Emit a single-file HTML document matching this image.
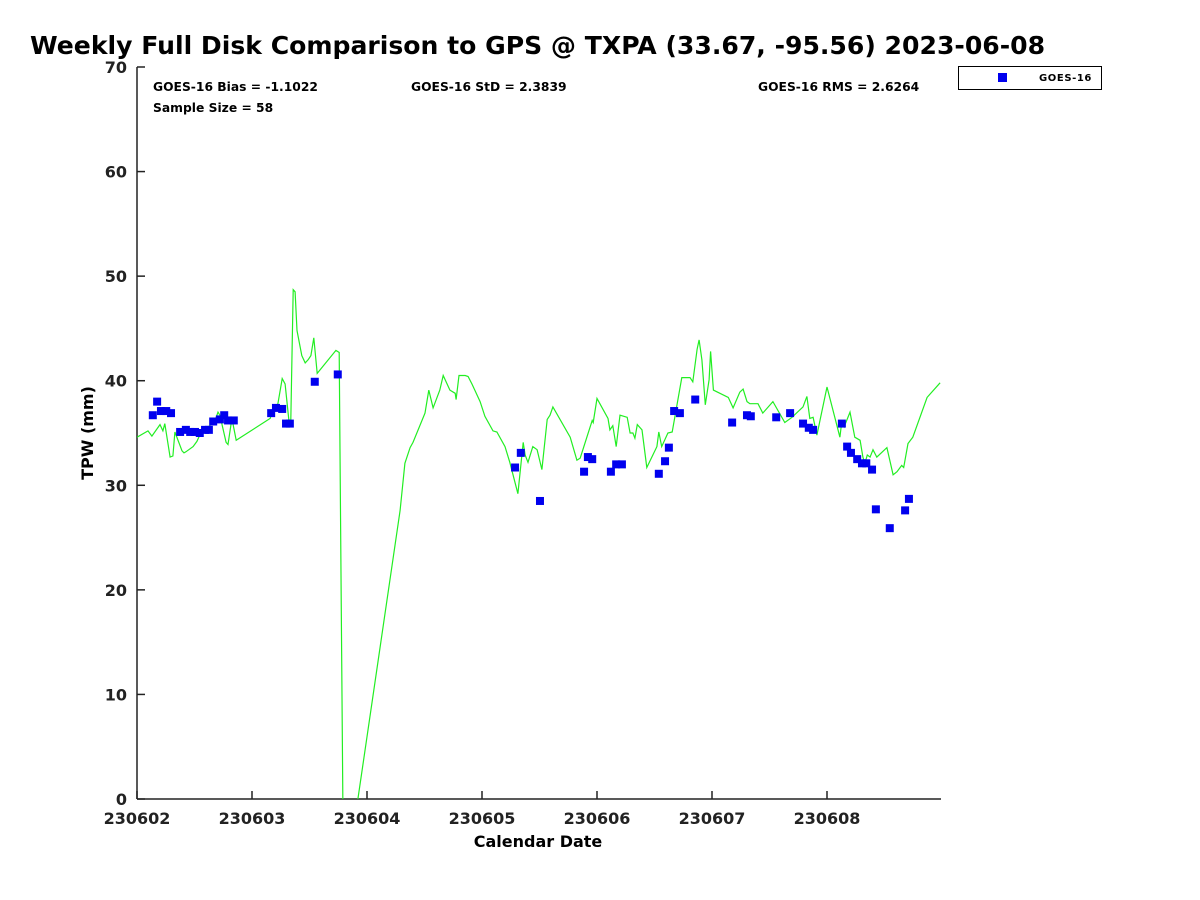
<!DOCTYPE html>
<html><head><meta charset="utf-8"><style>
body{margin:0;background:#fff;}
svg{display:block;font-family:"DejaVu Sans","Liberation Sans",sans-serif;}
</style></head><body>
<svg id="chart" width="1200" height="900">
<text x="30" y="54" font-size="25.1" font-weight="bold">Weekly Full Disk Comparison to GPS @ TXPA (33.67, -95.56) 2023-06-08</text>
<defs><clipPath id="pc"><rect x="137" y="67" width="804" height="732"/></clipPath></defs>
<g id="axes"></g>
<g id="series" clip-path="url(#pc)"></g>
<text x="153" y="91" font-size="12.3" font-weight="bold">GOES-16 Bias = -1.1022</text>
<text x="411" y="91" font-size="12.3" font-weight="bold">GOES-16 StD = 2.3839</text>
<text x="758" y="91" font-size="12.3" font-weight="bold">GOES-16 RMS = 2.6264</text>
<text x="153" y="112" font-size="12.3" font-weight="bold">Sample Size = 58</text>
<g>
<rect x="958.5" y="66.5" width="143" height="23" fill="#fff" stroke="#000"/>
<rect x="998" y="73" width="9" height="9" fill="#0000ee"/>
<text x="1092" y="81" font-size="10" font-weight="bold" letter-spacing="0.6" text-anchor="end">GOES-16</text>
</g>
<text x="538" y="847" font-size="16" font-weight="bold" text-anchor="middle">Calendar Date</text>
<text transform="translate(93,433) rotate(-90)" font-size="16" font-weight="bold" text-anchor="middle">TPW (mm)</text>
</svg>
<script>
const xTickLabels=["230602","230603","230604","230605","230606","230607","230608"];
const yTickValues=[0,10,20,30,40,50,60,70];
const gpsHours=[0,2.3,3.1,4.8,5.4,5.8,6.9,7.5,7.9,9.4,9.8,10.2,11.7,12.5,13.1,14.2,15.2,16.3,16.9,17.3,18.6,19.0,19.8,20.7,27.8,28.2,29.4,30.3,30.9,31.7,32.1,32.6,33.0,33.4,34.4,35.1,35.7,36.3,36.9,37.6,41.5,42.2,43.0,46.1,54.9,55.9,57.0,57.6,60.1,60.9,61.8,63.2,63.9,65.3,66.4,66.6,67.2,68.5,69.1,69.9,70.5,71.6,72.6,74.3,75.1,76.8,77.8,79.5,80.6,81.0,81.6,82.6,83.5,84.5,85.6,86.2,86.8,90.4,91.8,92.5,95.0,95.2,96.0,98.3,98.7,99.3,100.0,100.8,102.3,102.9,103.5,103.9,104.4,105.4,106.4,108.5,108.9,109.5,110.8,111.7,113.7,115.4,116.0,116.9,117.3,117.9,118.6,119.4,119.7,120.3,123.4,124.4,125.8,126.5,127.3,127.9,129.6,130.6,132.7,135.2,136.7,139.0,139.8,140.4,141.1,141.9,144.0,146.7,147.1,147.6,148.8,149.8,150.9,151.5,151.9,152.4,153.0,153.6,154.4,156.5,157.8,158.6,159.6,160.0,160.9,161.9,164.9,167.6];
const gpsValues=[34.6,35.2,34.7,35.8,35.2,35.9,32.7,32.8,35.1,33.3,33.1,33.2,33.7,34.2,34.8,35.4,35.7,36.2,37.0,36.7,34.1,33.9,36.4,34.3,36.4,37.0,37.8,40.2,39.7,36.2,36.2,48.7,48.5,44.8,42.4,41.7,42.0,42.4,44.1,40.7,42.9,42.7,-2,0,27.6,32.1,33.6,34.1,36.9,39.1,37.4,39.1,40.5,39.1,38.8,38.2,40.5,40.5,40.4,39.7,39.1,38.0,36.6,35.2,35.1,33.7,32.2,29.2,34.1,32.9,32.2,33.7,33.4,31.5,36.3,36.7,37.5,34.6,32.4,32.6,36.2,36.0,38.3,36.4,35.3,35.7,33.7,36.7,36.5,35.0,35.0,34.5,35.8,35.3,31.7,33.7,35.1,33.7,35.0,35.1,40.3,40.3,39.9,43.0,43.9,42.0,37.7,40.1,42.8,39.1,38.4,37.4,38.9,39.2,38.0,37.8,37.8,36.9,38.0,36.0,36.5,37.5,38.5,36.4,36.5,34.8,39.4,34.6,36.2,35.6,37.0,34.6,34.3,32.7,32.1,32.9,32.7,33.4,32.7,33.6,31.0,31.3,31.9,31.7,34.0,34.6,38.4,39.8];
const goesHours=[3.3,4.2,5.0,6.1,7.1,9.0,10.2,11.1,12.1,13.1,14.2,15.0,15.9,17.3,18.2,19.0,20.2,28.0,29.0,30.3,31.1,31.9,37.1,41.9,78.9,80.1,84.1,93.3,94.1,95.0,98.9,100.0,101.2,108.9,110.2,111.0,112.1,113.3,116.5,124.2,127.3,128.1,133.4,136.3,139.0,140.2,141.1,147.1,148.2,149.0,150.3,151.3,152.2,153.4,154.2,157.1,160.3,161.1];
const goesValues=[36.7,38.0,37.1,37.1,36.9,35.1,35.3,35.1,35.1,35.0,35.3,35.3,36.1,36.3,36.7,36.2,36.2,36.9,37.4,37.3,35.9,35.9,39.9,40.6,31.7,33.1,28.5,31.3,32.7,32.5,31.3,32.0,32.0,31.1,32.3,33.6,37.1,36.9,38.2,36.0,36.7,36.6,36.5,36.9,35.9,35.5,35.3,35.9,33.7,33.1,32.5,32.1,32.1,31.5,27.7,25.9,27.6,28.7];

const NS='http://www.w3.org/2000/svg';
const X0=137,X1=941,Y0=799,Y1=67,DAYPX=115;
const xs=h=>X0+h/24*DAYPX;
const ys=v=>Y0-(v/70)*(Y0-Y1);
function mk(tag,attrs,parent){const e=document.createElementNS(NS,tag);for(const k in attrs)e.setAttribute(k,attrs[k]);parent.appendChild(e);return e;}
const axes=document.getElementById('axes'),series=document.getElementById('series');

let yl=mk('line',{x1:X0,y1:Y1,x2:X0,y2:Y0,stroke:'#222','stroke-width':1.5},axes);


let xl=mk('line',{x1:X0,y1:Y0,x2:X1,y2:Y0,stroke:'#222','stroke-width':1.5},axes);



yTickValues.forEach(v=>{
 const y=ys(v);
 const t=mk('line',{x1:X0,y1:y,x2:X0+8,y2:y,stroke:'#222','stroke-width':1.5},axes);
 
 
 const l=mk('text',{x:127,y:y+6,'font-size':16,'font-weight':'bold','text-anchor':'end',fill:'#222'},axes);
 l.textContent=v;
 
 
});
xTickLabels.forEach((s,i)=>{
 const x=X0+i*DAYPX;
 const t=mk('line',{x1:x,y1:Y0,x2:x,y2:Y0-8,stroke:'#222','stroke-width':1.5},axes);
 
 
 const l=mk('text',{x:x,y:824,'font-size':16,'font-weight':'bold','text-anchor':'middle',fill:'#222'},axes);
 l.textContent=s;
 
 
});

const pts=gpsHours.map((h,i)=>xs(h).toFixed(1)+','+ys(gpsValues[i]).toFixed(1)).join(' ');
const pl=mk('polyline',{points:pts,fill:'none',stroke:'#22ee22','stroke-width':1.2},series);



goesHours.forEach((h,i)=>{
 const r=mk('rect',{x:xs(h)-4,y:ys(goesValues[i])-4,width:8,height:8,fill:'#0000ee'},series);
 
 
});
</script>
</body></html>
